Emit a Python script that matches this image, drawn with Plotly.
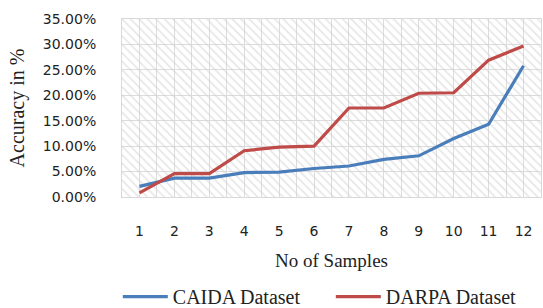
import plotly.graph_objects as go

samples = ["1", "2", "3", "4", "5", "6", "7", "8", "9", "10", "11", "12"]
caida = [0.021, 0.037, 0.037, 0.048, 0.049, 0.056, 0.061, 0.074, 0.081, 0.115, 0.143, 0.258]
darpa = [0.008, 0.046, 0.046, 0.091, 0.098, 0.100, 0.175, 0.175, 0.204, 0.205, 0.269, 0.297]
y_ticks = [0, 0.05, 0.10, 0.15, 0.20, 0.25, 0.30, 0.35]

fig = go.Figure()

# hatched plot-area background (decoration)
fig.add_trace(go.Bar(x=[0.5], y=[1], width=[1], xaxis="x", yaxis="y",
                     marker=dict(color="rgba(0,0,0,0)", line=dict(width=0),
                                 pattern=dict(shape="\\", fgcolor="#d0d0d0", bgcolor="rgba(0,0,0,0)",
                                              size=6, solidity=0.3, fillmode="overlay")),
                     showlegend=False, hoverinfo="skip"))

fig.add_trace(go.Scatter(x=samples, y=caida, mode="lines", name="CAIDA Dataset",
                         line=dict(color="#4a7ebb", width=3.2), xaxis="x2", yaxis="y2"))
fig.add_trace(go.Scatter(x=samples, y=darpa, mode="lines", name="DARPA Dataset",
                         line=dict(color="#be4b48", width=3.2), xaxis="x2", yaxis="y2"))

fig.update_layout(
    width=543, height=308,
    margin=dict(l=122, r=2, t=19, b=111, autoexpand=False),
    paper_bgcolor="white", plot_bgcolor="white",
    # base axes: carry the half-category vertical grid and the hatch
    xaxis=dict(range=[0, 1], showticklabels=False, ticks="", showline=False, zeroline=False,
               showgrid=True, gridcolor="#dcdcdc", gridwidth=1, tick0=0, dtick=1 / 24,
               fixedrange=True),
    yaxis=dict(range=[0, 1], visible=False, showgrid=False, fixedrange=True),
    xaxis2=dict(overlaying="x", type="category", range=[-0.5, 11.5],
                showgrid=False,
                showline=True, linecolor="#d9d9d9", mirror=True,
                tickfont=dict(family="DejaVu Sans", size=14, color="#222"),
                ticklabelstandoff=21, ticks="",
                title=dict(text="No of Samples", font=dict(family="Liberation Serif", size=19, color="#222"),
                           standoff=15)),
    yaxis2=dict(overlaying="y", range=[0, 0.35], tickvals=y_ticks, tickformat=".2%",
                showgrid=True, gridcolor="#dcdcdc", gridwidth=1, zeroline=False,
                showline=True, linecolor="#d9d9d9", mirror=True,
                tickfont=dict(family="DejaVu Sans", size=14, color="#222"),
                ticklabelstandoff=22,
                title=dict(text="Accuracy in %", font=dict(family="Liberation Serif", size=20, color="#222"),
                           standoff=12)),
    legend=dict(orientation="h", x=-0.01, xanchor="left", y=-0.45, yanchor="top",
                font=dict(family="Liberation Serif", size=20, color="#222"),
                bgcolor="rgba(0,0,0,0)", entrywidth=153, itemwidth=45, tracegroupgap=0),
    showlegend=True,
)

fig.write_html("out.html")
